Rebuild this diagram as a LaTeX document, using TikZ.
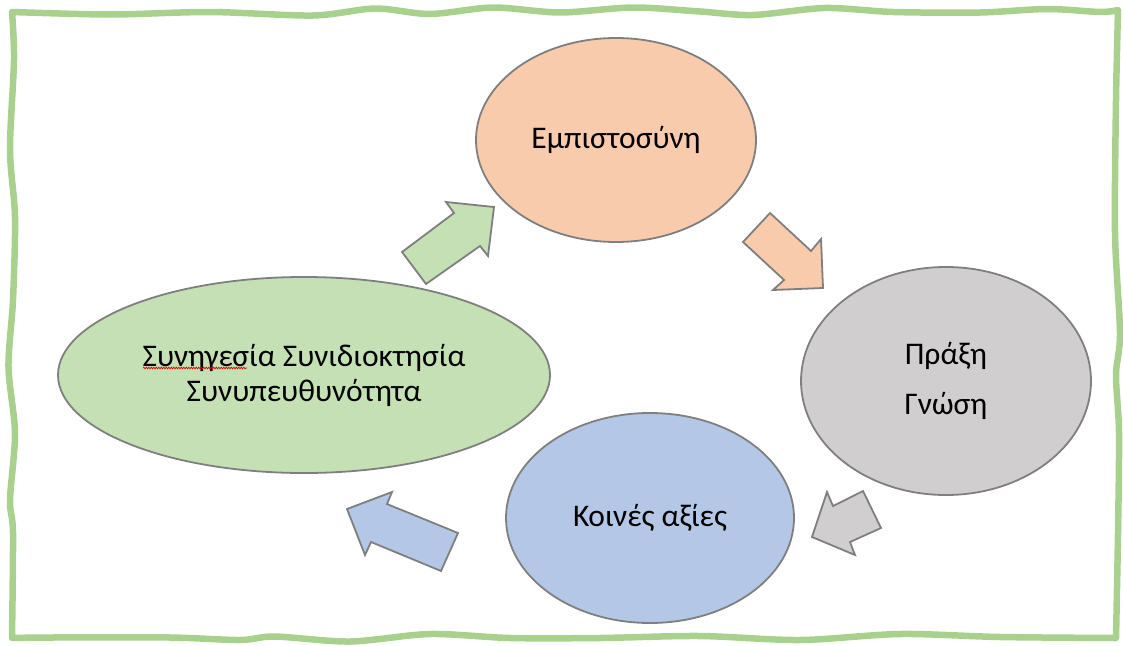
\documentclass[tikz,border=0pt]{standalone}
\usepackage{fontspec}
\setmainfont{Carlito}
\usetikzlibrary{shapes.geometric,decorations.pathmorphing}
\definecolor{bordergreen}{HTML}{A9D18E}
\definecolor{peach}{HTML}{F8CBAD}
\definecolor{greyfill}{HTML}{D0CECE}
\definecolor{bluefill}{HTML}{B4C7E7}
\definecolor{greenfill}{HTML}{C5E0B4}
\definecolor{edgegrey}{HTML}{7F7F7F}
\tikzset{
  bubble/.style={ellipse, draw=edgegrey, line width=1.8pt, inner sep=0pt,
    align=center, font=\fontsize{31.5}{35}\selectfont},
  blockarrow/.style={draw=edgegrey, line width=1.8pt, line join=miter},
  frameline/.style={draw=bordergreen, line width=6.5pt, line cap=round, line join=round}
}
\begin{document}
\begin{tikzpicture}[x=1pt,y=-1pt]
\useasboundingbox (0,0) rectangle (1123,645);
% wavy frame
\draw[frameline]
  plot[smooth, tension=0.5] coordinates {(12,12) (110,14.5) (210,12) (313,15.5) (375,8.5) (430,14) (493,7.5) (560,12.5) (633,7.5) (700,11.5) (753,15) (825,8) (893,12) (980,12.5) (1047,9) (1100,12) (1118,10)}
  -- plot[smooth, tension=0.5] coordinates {(1118,10) (1116,100) (1115,233) (1120,333) (1116,375) (1119,433) (1118,533) (1116,638)}
  -- plot[smooth, tension=0.5] coordinates {(1116,638) (1000,637) (900,634) (800,640) (700,636) (600,638) (510,638) (430,634) (350,641.5) (275,636.5) (240,640) (170,637.5) (50,637.5) (12,638)}
  -- plot[smooth, tension=0.5] coordinates {(12,638) (13,533) (10,500) (15,433) (8.5,367) (13,300) (15,217) (10,150) (14,60) (12,12)};
% ellipses
\node[bubble, fill=peach, minimum width=280pt, minimum height=204pt] (trust) at (616,140) {Εμπιστοσύνη};
\node[bubble, fill=greyfill, minimum width=290pt, minimum height=228pt] (praxis) at (946,381) {Πράξη\\[15pt]Γνώση};
\node[bubble, fill=bluefill, minimum width=288pt, minimum height=210pt] (values) at (650,518) {Κοινές αξίες};
\node[bubble, fill=greenfill, minimum width=492pt, minimum height=196pt] (synergy) at (304,375) {Συνηγεσία Συνιδιοκτησία\\Συνυπευθυνότητα};
% spell-check underline
\draw[red!85!black, line width=0.7pt, decorate, decoration={snake, amplitude=0.8pt, segment length=2.5pt}] (143,368) -- (247,368);
% block arrows
\draw[blockarrow, fill=greenfill] (402,252) -- (454,213) -- (446,202) -- (494,207) -- (488,256) -- (480,246) -- (426,284) -- cycle;
\draw[blockarrow, fill=peach] (743,242) -- (770,213) -- (811,251) -- (821,239) -- (823,288) -- (773,290) -- (784,280) -- cycle;
\draw[blockarrow, fill=greyfill] (863,491) -- (881,528) -- (850,542) -- (855,555) -- (812,537) -- (827,492) -- (833,506) -- cycle;
\draw[blockarrow, fill=bluefill] (458,533) -- (441,571) -- (371,542) -- (365,555) -- (347,509) -- (392,492) -- (387,504) -- cycle;
\end{tikzpicture}
\end{document}
